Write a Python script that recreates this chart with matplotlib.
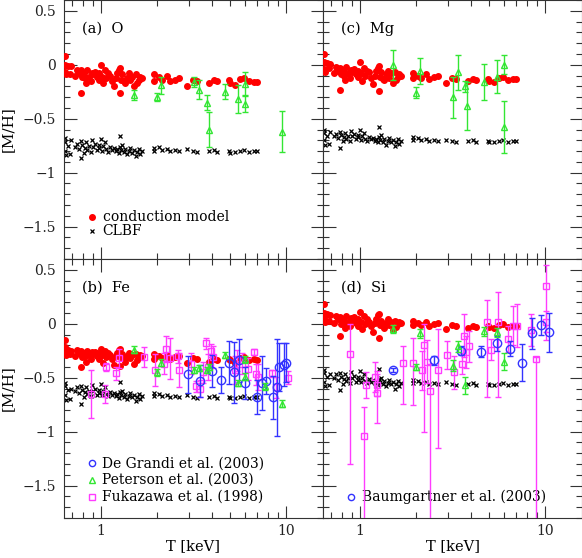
import numpy as np
import matplotlib
matplotlib.use("Agg")
import matplotlib.pyplot as plt
from matplotlib.ticker import LogLocator, MultipleLocator, FuncFormatter, NullFormatter

plt.rcParams['font.family'] = ['DejaVu Serif']

# temperatures of the model clusters (same sample in every panel)
t_mod = [0.64, 0.64, 0.66, 0.69, 0.64, 0.65, 0.68, 0.72, 0.74, 0.76, 0.78, 0.79, 0.81, 0.82, 0.83,
         0.84, 0.86, 0.88, 0.89, 0.91, 0.93, 0.95, 0.97, 0.98, 1.00, 1.01, 1.03, 1.05, 1.06, 1.09,
         1.12, 1.15, 1.17, 1.20, 1.22, 1.25, 1.27, 1.29, 1.30, 1.33, 1.35, 1.38, 1.41, 1.44, 1.47,
         1.50, 1.54, 1.57, 1.60, 1.63, 1.67, 0.78, 1.27, 1.93, 1.93, 2.05, 2.14, 2.28, 2.37, 2.52,
         2.65, 2.92, 3.16, 3.30, 3.82, 4.06, 4.24, 4.90, 5.00, 5.32, 5.66, 5.90, 6.28, 6.69, 6.97]

o_red = [0.08, 0.00, -0.01, -0.01, -0.07, -0.09, -0.09, -0.10, -0.05, -0.08, -0.05, -0.11, -0.08, -0.12, -0.17,
         -0.05, -0.11, -0.15, -0.08, -0.09, -0.07, -0.11, -0.14, -0.08, 0.00, -0.11, -0.17, -0.05, -0.12, -0.08,
         -0.10, -0.15, -0.20, -0.12, -0.08, -0.05, -0.03, -0.14, -0.09, -0.15, -0.17, -0.12, -0.08, -0.14, -0.11,
         -0.20, -0.09, -0.17, -0.14, -0.11, -0.12, -0.26, -0.26, -0.09, -0.15, -0.11, -0.14, -0.10, -0.15, -0.14,
         -0.12, -0.20, -0.14, -0.15, -0.17, -0.14, -0.15, -0.14, -0.17, -0.19, -0.13, -0.12, -0.15, -0.16, -0.16]
o_blk = [-0.68, -0.72, -0.75, -0.70, -0.80, -0.84, -0.83, -0.76, -0.73, -0.78, -0.71, -0.74, -0.82, -0.77, -0.72,
         -0.79, -0.75, -0.81, -0.70, -0.76, -0.73, -0.79, -0.77, -0.74, -0.69, -0.80, -0.75, -0.72, -0.78, -0.81,
         -0.76, -0.79, -0.77, -0.80, -0.78, -0.82, -0.76, -0.79, -0.74, -0.81, -0.78, -0.83, -0.80, -0.77, -0.82,
         -0.79, -0.85, -0.81, -0.78, -0.83, -0.80, -0.86, -0.66, -0.77, -0.80, -0.76, -0.79, -0.78, -0.80, -0.79,
         -0.80, -0.78, -0.80, -0.81, -0.80, -0.79, -0.81, -0.80, -0.82, -0.81, -0.80, -0.79, -0.81, -0.80, -0.80]

mg_red = [0.10, 0.03, 0.02, 0.01, -0.04, -0.07, -0.03, -0.08, -0.02, -0.06, -0.03, -0.09, -0.05, -0.10, -0.14,
          -0.02, -0.08, -0.12, -0.05, -0.07, -0.04, -0.09, -0.11, -0.06, 0.03, -0.08, -0.15, -0.03, -0.10, -0.06,
          -0.07, -0.12, -0.18, -0.10, -0.06, -0.03, -0.01, -0.11, -0.07, -0.13, -0.14, -0.09, -0.06, -0.12, -0.08,
          -0.17, -0.07, -0.14, -0.11, -0.09, -0.10, -0.23, -0.24, -0.08, -0.12, -0.10, -0.12, -0.09, -0.13, -0.11,
          -0.10, -0.17, -0.12, -0.13, -0.15, -0.13, -0.14, -0.13, -0.15, -0.16, -0.12, -0.11, -0.14, -0.13, -0.13]
mg_blk = [-0.60, -0.63, -0.66, -0.62, -0.70, -0.74, -0.73, -0.66, -0.64, -0.68, -0.62, -0.65, -0.71, -0.67, -0.63,
          -0.69, -0.66, -0.71, -0.61, -0.66, -0.64, -0.69, -0.67, -0.65, -0.60, -0.70, -0.66, -0.63, -0.69, -0.71,
          -0.67, -0.69, -0.68, -0.71, -0.69, -0.72, -0.67, -0.70, -0.65, -0.72, -0.69, -0.74, -0.71, -0.68, -0.72,
          -0.70, -0.75, -0.72, -0.69, -0.73, -0.71, -0.77, -0.58, -0.67, -0.70, -0.68, -0.70, -0.69, -0.71, -0.70,
          -0.71, -0.70, -0.71, -0.72, -0.71, -0.70, -0.72, -0.71, -0.72, -0.72, -0.71, -0.70, -0.72, -0.71, -0.71]

fe_red = [-0.15, -0.22, -0.24, -0.25, -0.27, -0.29, -0.28, -0.30, -0.24, -0.27, -0.25, -0.31, -0.27, -0.30, -0.35,
          -0.25, -0.29, -0.33, -0.26, -0.28, -0.26, -0.30, -0.33, -0.27, -0.23, -0.29, -0.36, -0.25, -0.31, -0.27,
          -0.29, -0.33, -0.38, -0.30, -0.27, -0.24, -0.23, -0.32, -0.28, -0.33, -0.35, -0.30, -0.27, -0.32, -0.29,
          -0.37, -0.28, -0.34, -0.31, -0.29, -0.30, -0.40, -0.39, -0.28, -0.33, -0.30, -0.32, -0.29, -0.33, -0.31,
          -0.30, -0.36, -0.32, -0.33, -0.35, -0.33, -0.34, -0.33, -0.34, -0.36, -0.32, -0.31, -0.34, -0.33, -0.34]
fe_blk = [-0.55, -0.58, -0.61, -0.60, -0.66, -0.71, -0.70, -0.62, -0.59, -0.64, -0.58, -0.61, -0.68, -0.63, -0.59,
          -0.65, -0.62, -0.67, -0.57, -0.62, -0.60, -0.66, -0.64, -0.61, -0.56, -0.66, -0.62, -0.59, -0.65, -0.67,
          -0.63, -0.66, -0.64, -0.67, -0.65, -0.69, -0.63, -0.66, -0.62, -0.68, -0.65, -0.70, -0.67, -0.64, -0.68,
          -0.66, -0.72, -0.68, -0.65, -0.70, -0.67, -0.74, -0.54, -0.64, -0.67, -0.65, -0.67, -0.66, -0.68, -0.67,
          -0.68, -0.66, -0.68, -0.69, -0.68, -0.67, -0.69, -0.68, -0.69, -0.69, -0.68, -0.67, -0.69, -0.68, -0.68]

si_red = [0.18, 0.10, 0.09, 0.08, 0.05, 0.02, 0.03, 0.01, 0.07, 0.04, 0.06, 0.00, 0.04, 0.01, -0.04,
          0.07, 0.02, -0.02, 0.05, 0.03, 0.06, 0.01, -0.02, 0.04, 0.11, 0.02, -0.05, 0.07, 0.00, 0.04,
          0.02, -0.02, -0.08, 0.01, 0.04, 0.08, 0.09, -0.01, 0.03, -0.02, -0.04, 0.01, 0.04, -0.01, 0.02,
          -0.06, 0.03, -0.03, 0.00, 0.02, 0.01, -0.11, -0.13, 0.03, -0.01, 0.01, -0.01, 0.02, -0.02, 0.00,
          0.01, -0.05, -0.01, -0.02, -0.04, -0.02, -0.03, -0.02, -0.03, -0.04, -0.01, 0.00, -0.03, -0.02, -0.02]
si_blk = [-0.43, -0.46, -0.49, -0.47, -0.54, -0.58, -0.57, -0.50, -0.47, -0.52, -0.46, -0.49, -0.56, -0.51, -0.47,
          -0.53, -0.50, -0.55, -0.45, -0.50, -0.48, -0.54, -0.52, -0.49, -0.44, -0.54, -0.50, -0.47, -0.53, -0.55,
          -0.51, -0.54, -0.52, -0.55, -0.53, -0.57, -0.51, -0.54, -0.50, -0.56, -0.53, -0.58, -0.55, -0.52, -0.56,
          -0.54, -0.60, -0.56, -0.53, -0.58, -0.55, -0.61, -0.42, -0.52, -0.55, -0.53, -0.55, -0.54, -0.56, -0.55,
          -0.56, -0.54, -0.56, -0.57, -0.56, -0.55, -0.57, -0.56, -0.57, -0.57, -0.56, -0.55, -0.57, -0.56, -0.56]

# Peterson et al. (2003)
po_t = [1.51, 2.00, 2.11, 3.19, 3.40, 3.73, 3.82, 4.70, 5.50, 6.03, 6.03, 9.50]
po_m = [-0.28, -0.30, -0.19, -0.16, -0.23, -0.35, -0.60, -0.25, -0.32, -0.18, -0.36, -0.62]
po_e = [0.05, 0.04, 0.08, 0.05, 0.09, 0.07, 0.16, 0.07, 0.13, 0.11, 0.08, 0.19]

pm_t = [1.50, 2.00, 2.11, 3.20, 3.40, 3.70, 3.80, 4.68, 5.48, 6.00, 6.00]
pm_m = [0.00, -0.26, -0.06, -0.30, -0.07, -0.20, -0.38, -0.16, -0.11, 0.00, -0.58]
pm_e = [0.14, 0.05, 0.12, 0.19, 0.16, 0.05, 0.22, 0.17, 0.15, 0.09, 0.24]

pf_t = [1.51, 2.00, 2.11, 3.19, 3.40, 3.73, 3.82, 4.70, 5.50, 6.03, 6.03, 7.70, 9.50]
pf_m = [-0.24, -0.45, -0.36, -0.43, -0.41, -0.43, -0.40, -0.29, -0.55, -0.49, -0.33, -0.58, -0.74]
pf_e = [0.03, 0.03, 0.03, 0.03, 0.03, 0.03, 0.03, 0.03, 0.03, 0.03, 0.03, 0.03, 0.03]

ps_t = [1.50, 2.00, 2.11, 3.17, 3.40, 3.70, 4.68, 5.48, 6.00]
ps_m = [-0.05, -0.40, -0.09, -0.39, -0.21, -0.57, -0.07, -0.08, -0.35]
ps_e = [0.04, 0.03, 0.04, 0.05, 0.05, 0.08, 0.04, 0.04, 0.08]

# De Grandi et al. (2003), Fe
dg_t = [2.97, 3.43, 4.00, 4.43, 4.94, 5.25, 5.60, 6.00, 6.95, 7.45, 7.76, 8.47, 8.90, 9.20, 9.70, 10.0]
dg_m = [-0.47, -0.53, -0.44, -0.52, -0.36, -0.45, -0.34, -0.55, -0.68, -0.55, -0.53, -0.68, -0.59, -0.40, -0.38, -0.36]
dg_e = [0.17, 0.15, 0.15, 0.12, 0.20, 0.28, 0.20, 0.15, 0.16, 0.25, 0.12, 0.20, 0.45, 0.22, 0.20, 0.18]

# Fukazawa et al. (1998), Fe
ff_t = [0.88, 1.05, 1.07, 1.20, 1.25, 1.71, 1.95, 2.19, 2.24, 2.36, 2.61, 2.64, 3.05, 3.25, 3.43,
        3.57, 3.69, 3.80, 3.92, 4.03, 5.30, 5.46, 5.77, 6.25, 6.74, 6.87, 7.10, 8.37, 8.80, 10.2]
ff_m = [-0.65, -0.65, -0.40, -0.46, -0.32, -0.31, -0.43, -0.37, -0.23, -0.32, -0.30, -0.43, -0.37, -0.58, -0.60,
        -0.45, -0.18, -0.40, -0.25, -0.31, -0.43, -0.34, -0.37, -0.42, -0.26, -0.47, -0.49, -0.46, -0.59, -0.50]
ff_e = [0.22, 0.08, 0.04, 0.06, 0.09, 0.09, 0.15, 0.10, 0.12, 0.19, 0.06, 0.16, 0.10, 0.05, 0.08,
        0.10, 0.05, 0.12, 0.06, 0.10, 0.13, 0.10, 0.10, 0.10, 0.03, 0.10, 0.12, 0.03, 0.10, 0.06]

# Fukazawa et al. (1998), Si (asymmetric errors)
fs_t = [0.88, 1.05, 1.08, 1.20, 1.23, 1.23, 1.71, 1.94, 2.15, 2.22, 2.29, 2.39, 2.63, 2.94, 3.22,
        3.55, 3.65, 3.73, 3.90, 4.88, 5.10, 5.60, 6.33, 6.74, 7.03, 8.36, 8.94, 10.1, 10.1]
fs_m = [-0.28, -1.04, -0.57, -0.49, -0.57, -0.64, -0.36, -0.36, -0.43, -0.20, -0.35, -0.62, -0.43, -0.29, -0.45,
        -0.37, -0.11, -0.26, -0.21, 0.02, -0.24, 0.02, -0.14, -0.02, -0.02, -0.06, -0.33, 0.35, 0.02]
fs_lo = [1.02, 0.90, 0.12, 0.14, 0.10, 0.28, 0.38, 0.39, 0.18, 0.80, 0.20, 1.40, 0.72, 0.13, 0.15,
         0.10, 0.20, 0.15, 0.14, 0.70, 0.10, 0.70, 0.12, 0.18, 0.20, 0.15, 1.60, 0.50, 0.10]
fs_hi = [0.28, 0.27, 0.12, 0.14, 0.10, 0.20, 0.15, 0.23, 0.18, 0.20, 0.20, 0.25, 0.38, 0.13, 0.15,
         0.10, 0.20, 0.15, 0.14, 0.20, 0.10, 0.27, 0.12, 0.18, 0.20, 0.15, 0.02, 0.19, 0.10]

# Baumgartner et al. (2003), Si
bg_t = [1.50, 2.51, 3.50, 4.49, 5.53, 6.47, 7.48, 8.51, 9.48, 10.5]
bg_m = [-0.43, -0.34, -0.25, -0.26, -0.18, -0.23, -0.36, -0.09, -0.01, -0.08]
bg_e = [0.02, 0.04, 0.04, 0.05, 0.07, 0.07, 0.17, 0.14, 0.09, 0.18]

RED = '#ff0000'
GREEN = '#33e633'
BLUE = '#3333ff'
MAG = '#ff3cff'
AX = '#333333'

fig = plt.figure(figsize=(5.82, 5.58), dpi=100)
x0, x1 = 64 / 582, 323 / 582
y0, y1 = 1 - 518 / 558, 1 - 259 / 558
w, h = 259 / 582, 259 / 558
ax_a = fig.add_axes([x0, y1, w, h])
ax_c = fig.add_axes([x1, y1, w, h])
ax_b = fig.add_axes([x0, y0, w, h])
ax_d = fig.add_axes([x1, y0, w, h])


def ytick(v, pos):
    if abs(v) < 1e-9:
        return '0'
    return ('%g' % v).replace('-', '\u2212')


def xtick(v, pos):
    return '%g' % v


for ax in (ax_a, ax_b, ax_c, ax_d):
    ax.set_xscale('log')
    ax.set_xlim(10 ** -0.2, 10 ** 1.2)
    ax.set_ylim(-1.8, 0.6)
    ax.xaxis.set_major_locator(LogLocator(base=10, subs=[1.0]))
    ax.xaxis.set_minor_locator(LogLocator(base=10, subs=np.arange(2, 10)))
    ax.xaxis.set_minor_formatter(NullFormatter())
    ax.xaxis.set_major_formatter(FuncFormatter(xtick))
    ax.yaxis.set_major_locator(MultipleLocator(0.5))
    ax.yaxis.set_minor_locator(MultipleLocator(0.1))
    ax.yaxis.set_major_formatter(FuncFormatter(ytick))
    ax.tick_params(which='both', direction='in', top=True, right=True, color=AX,
                   labelsize=10, labelcolor='#222222', width=0.8)
    ax.tick_params(which='major', length=9, pad=6)
    ax.tick_params(which='minor', length=4.5)
    for s in ax.spines.values():
        s.set_color(AX)
        s.set_linewidth(0.8)

for ax in (ax_a, ax_c):
    ax.tick_params(labelbottom=False)
for ax in (ax_c, ax_d):
    ax.tick_params(labelleft=False)
for ax in (ax_a, ax_b):
    ax.set_ylabel('[M/H]', fontsize=11)
    ax.yaxis.set_label_coords(-0.19, 0.5)
for ax in (ax_b, ax_d):
    ax.tick_params(axis='x', which='major', pad=4)
    ax.set_xlabel('T [keV]', fontsize=10.5, labelpad=1)

panels = [
    (ax_a, '(a)  O', o_red, o_blk),
    (ax_c, '(c)  Mg', mg_red, mg_blk),
    (ax_b, '(b)  Fe', fe_red, fe_blk),
    (ax_d, '(d)  Si', si_red, si_blk),
]
for ax, lab, red, blk in panels:
    ax.plot(t_mod, blk, 'x', color='black', ms=3.4, mew=0.9, zorder=2)
    ax.plot(t_mod, red, 'o', color=RED, ms=4, mec=RED, zorder=3)
    ax.text(0.07, 0.89, lab, transform=ax.transAxes, fontsize=10.5, va='center')

err_kw = dict(mfc='none', elinewidth=1, capthick=1, capsize=2.5, mew=1, linestyle='none')

ax_a.errorbar(po_t, po_m, yerr=po_e, fmt='^', color=GREEN, ms=4.5, zorder=4, **err_kw)
ax_c.errorbar(pm_t, pm_m, yerr=pm_e, fmt='^', color=GREEN, ms=4.5, zorder=4, **err_kw)

ax_b.errorbar(ff_t, ff_m, yerr=ff_e, fmt='s', color=MAG, ms=4.5, zorder=4, **err_kw)
ax_b.errorbar(dg_t, dg_m, yerr=dg_e, fmt='o', color=BLUE, ms=6, zorder=5, **err_kw)
ax_b.errorbar(pf_t, pf_m, yerr=pf_e, fmt='^', color=GREEN, ms=4.5, zorder=6, **err_kw)

ax_d.errorbar(fs_t, fs_m, yerr=[fs_lo, fs_hi], fmt='s', color=MAG, ms=4.5, zorder=4, **err_kw)
ax_d.errorbar(bg_t, bg_m, yerr=bg_e, fmt='o', color=BLUE, ms=6, zorder=5, **err_kw)
ax_d.errorbar(ps_t, ps_m, yerr=ps_e, fmt='^', color=GREEN, ms=4.5, zorder=6, **err_kw)


def key(ax, y, marker, color, text, ms, tx=0.149):
    ax.plot([0.108], [y], marker, color=color, mfc='none', mec=color, ms=ms, mew=1,
            transform=ax.transAxes, clip_on=False)
    ax.text(tx, y, text, transform=ax.transAxes, fontsize=10, va='center')


ax_a.plot([0.108], [0.163], 'o', color=RED, ms=4, transform=ax_a.transAxes)
ax_a.text(0.149, 0.163, 'conduction model', transform=ax_a.transAxes, fontsize=10, va='center')
ax_a.plot([0.108], [0.108], 'x', color='black', ms=3.4, mew=0.9, transform=ax_a.transAxes)
ax_a.text(0.149, 0.108, 'CLBF', transform=ax_a.transAxes, fontsize=10, va='center')

key(ax_b, 0.211, 'o', BLUE, 'De Grandi et al. (2003)', 4.5, tx=0.146)
key(ax_b, 0.147, '^', GREEN, 'Peterson et al. (2003)', 4, tx=0.146)
key(ax_b, 0.082, 's', MAG, 'Fukazawa et al. (1998)', 4, tx=0.146)
key(ax_d, 0.082, 'o', BLUE, 'Baumgartner et al. (2003)', 4.5)

fig.savefig('out.png', dpi=100)
